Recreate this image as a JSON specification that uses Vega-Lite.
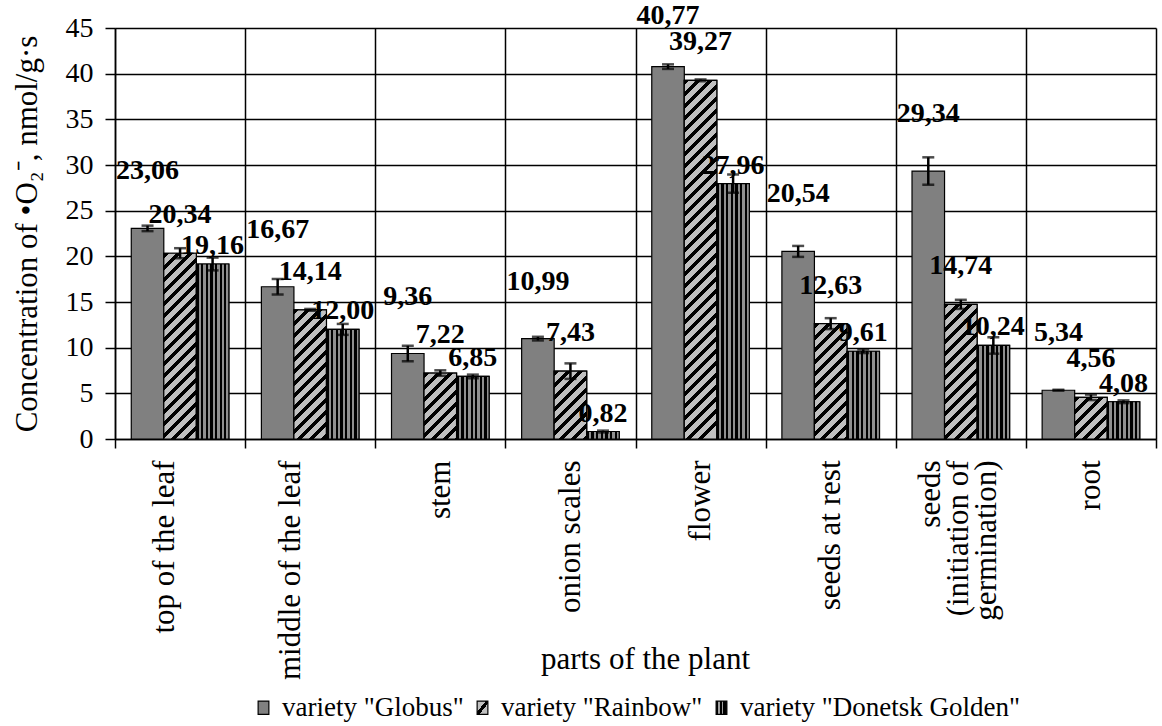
{
  "$schema": "https://vega.github.io/schema/vega-lite/v6.json",
  "width": 1041,
  "height": 411,
  "autosize": {"type": "none"},
  "padding": {"left": 115, "top": 28, "right": 6, "bottom": 287},
  "background": "white",
  "config": {
    "view": {"stroke": null},
    "font": "Liberation Serif",
    "locale": {"number": {"decimal": ",", "thousands": " ", "grouping": [3], "currency": ["", ""]}}
  },
  "params": [
    {"name": "hatchStops", "value": [
      {"offset":0,"color":"#000"},{"offset":0.013,"color":"#000"},{"offset":0.013,"color":"#c0c0c0"},{"offset":0.03125,"color":"#c0c0c0"},
      {"offset":0.03125,"color":"#000"},{"offset":0.04425,"color":"#000"},{"offset":0.04425,"color":"#c0c0c0"},{"offset":0.0625,"color":"#c0c0c0"},
      {"offset":0.0625,"color":"#000"},{"offset":0.0755,"color":"#000"},{"offset":0.0755,"color":"#c0c0c0"},{"offset":0.09375,"color":"#c0c0c0"},
      {"offset":0.09375,"color":"#000"},{"offset":0.10675,"color":"#000"},{"offset":0.10675,"color":"#c0c0c0"},{"offset":0.125,"color":"#c0c0c0"},
      {"offset":0.125,"color":"#000"},{"offset":0.138,"color":"#000"},{"offset":0.138,"color":"#c0c0c0"},{"offset":0.15625,"color":"#c0c0c0"},
      {"offset":0.15625,"color":"#000"},{"offset":0.16925,"color":"#000"},{"offset":0.16925,"color":"#c0c0c0"},{"offset":0.1875,"color":"#c0c0c0"},
      {"offset":0.1875,"color":"#000"},{"offset":0.2005,"color":"#000"},{"offset":0.2005,"color":"#c0c0c0"},{"offset":0.21875,"color":"#c0c0c0"},
      {"offset":0.21875,"color":"#000"},{"offset":0.23175,"color":"#000"},{"offset":0.23175,"color":"#c0c0c0"},{"offset":0.25,"color":"#c0c0c0"},
      {"offset":0.25,"color":"#000"},{"offset":0.263,"color":"#000"},{"offset":0.263,"color":"#c0c0c0"},{"offset":0.28125,"color":"#c0c0c0"},
      {"offset":0.28125,"color":"#000"},{"offset":0.29425,"color":"#000"},{"offset":0.29425,"color":"#c0c0c0"},{"offset":0.3125,"color":"#c0c0c0"},
      {"offset":0.3125,"color":"#000"},{"offset":0.3255,"color":"#000"},{"offset":0.3255,"color":"#c0c0c0"},{"offset":0.34375,"color":"#c0c0c0"},
      {"offset":0.34375,"color":"#000"},{"offset":0.35675,"color":"#000"},{"offset":0.35675,"color":"#c0c0c0"},{"offset":0.375,"color":"#c0c0c0"},
      {"offset":0.375,"color":"#000"},{"offset":0.388,"color":"#000"},{"offset":0.388,"color":"#c0c0c0"},{"offset":0.40625,"color":"#c0c0c0"},
      {"offset":0.40625,"color":"#000"},{"offset":0.41925,"color":"#000"},{"offset":0.41925,"color":"#c0c0c0"},{"offset":0.4375,"color":"#c0c0c0"},
      {"offset":0.4375,"color":"#000"},{"offset":0.4505,"color":"#000"},{"offset":0.4505,"color":"#c0c0c0"},{"offset":0.46875,"color":"#c0c0c0"},
      {"offset":0.46875,"color":"#000"},{"offset":0.48175,"color":"#000"},{"offset":0.48175,"color":"#c0c0c0"},{"offset":0.5,"color":"#c0c0c0"},
      {"offset":0.5,"color":"#000"},{"offset":0.513,"color":"#000"},{"offset":0.513,"color":"#c0c0c0"},{"offset":0.53125,"color":"#c0c0c0"},
      {"offset":0.53125,"color":"#000"},{"offset":0.54425,"color":"#000"},{"offset":0.54425,"color":"#c0c0c0"},{"offset":0.5625,"color":"#c0c0c0"},
      {"offset":0.5625,"color":"#000"},{"offset":0.5755,"color":"#000"},{"offset":0.5755,"color":"#c0c0c0"},{"offset":0.59375,"color":"#c0c0c0"},
      {"offset":0.59375,"color":"#000"},{"offset":0.60675,"color":"#000"},{"offset":0.60675,"color":"#c0c0c0"},{"offset":0.625,"color":"#c0c0c0"},
      {"offset":0.625,"color":"#000"},{"offset":0.638,"color":"#000"},{"offset":0.638,"color":"#c0c0c0"},{"offset":0.65625,"color":"#c0c0c0"},
      {"offset":0.65625,"color":"#000"},{"offset":0.66925,"color":"#000"},{"offset":0.66925,"color":"#c0c0c0"},{"offset":0.6875,"color":"#c0c0c0"},
      {"offset":0.6875,"color":"#000"},{"offset":0.7005,"color":"#000"},{"offset":0.7005,"color":"#c0c0c0"},{"offset":0.71875,"color":"#c0c0c0"},
      {"offset":0.71875,"color":"#000"},{"offset":0.73175,"color":"#000"},{"offset":0.73175,"color":"#c0c0c0"},{"offset":0.75,"color":"#c0c0c0"},
      {"offset":0.75,"color":"#000"},{"offset":0.763,"color":"#000"},{"offset":0.763,"color":"#c0c0c0"},{"offset":0.78125,"color":"#c0c0c0"},
      {"offset":0.78125,"color":"#000"},{"offset":0.79425,"color":"#000"},{"offset":0.79425,"color":"#c0c0c0"},{"offset":0.8125,"color":"#c0c0c0"},
      {"offset":0.8125,"color":"#000"},{"offset":0.8255,"color":"#000"},{"offset":0.8255,"color":"#c0c0c0"},{"offset":0.84375,"color":"#c0c0c0"},
      {"offset":0.84375,"color":"#000"},{"offset":0.85675,"color":"#000"},{"offset":0.85675,"color":"#c0c0c0"},{"offset":0.875,"color":"#c0c0c0"},
      {"offset":0.875,"color":"#000"},{"offset":0.888,"color":"#000"},{"offset":0.888,"color":"#c0c0c0"},{"offset":0.90625,"color":"#c0c0c0"},
      {"offset":0.90625,"color":"#000"},{"offset":0.91925,"color":"#000"},{"offset":0.91925,"color":"#c0c0c0"},{"offset":0.9375,"color":"#c0c0c0"},
      {"offset":0.9375,"color":"#000"},{"offset":0.9505,"color":"#000"},{"offset":0.9505,"color":"#c0c0c0"},{"offset":0.96875,"color":"#c0c0c0"},
      {"offset":0.96875,"color":"#000"},{"offset":0.98175,"color":"#000"},{"offset":0.98175,"color":"#c0c0c0"},{"offset":1,"color":"#c0c0c0"}
    ]},
    {"name": "donGrad", "value": {"gradient": "linear", "x1": 0, "y1": 0, "x2": 1, "y2": 0, "stops": [
      {"offset":0,"color":"#000"},{"offset":0.07,"color":"#000"},{"offset":0.07,"color":"#8f8f8f"},{"offset":0.142857,"color":"#8f8f8f"},
      {"offset":0.142857,"color":"#000"},{"offset":0.212857,"color":"#000"},{"offset":0.212857,"color":"#8f8f8f"},{"offset":0.285714,"color":"#8f8f8f"},
      {"offset":0.285714,"color":"#000"},{"offset":0.355714,"color":"#000"},{"offset":0.355714,"color":"#8f8f8f"},{"offset":0.428571,"color":"#8f8f8f"},
      {"offset":0.428571,"color":"#000"},{"offset":0.498571,"color":"#000"},{"offset":0.498571,"color":"#8f8f8f"},{"offset":0.571429,"color":"#8f8f8f"},
      {"offset":0.571429,"color":"#000"},{"offset":0.641429,"color":"#000"},{"offset":0.641429,"color":"#8f8f8f"},{"offset":0.714286,"color":"#8f8f8f"},
      {"offset":0.714286,"color":"#000"},{"offset":0.784286,"color":"#000"},{"offset":0.784286,"color":"#8f8f8f"},{"offset":0.857143,"color":"#8f8f8f"},
      {"offset":0.857143,"color":"#000"},{"offset":0.927143,"color":"#000"},{"offset":0.927143,"color":"#8f8f8f"},{"offset":1,"color":"#8f8f8f"}
    ]}},
    {"name": "legRain", "value": {"gradient": "linear", "x1": 0, "y1": 0, "x2": 1, "y2": 1, "stops": [
      {"offset":0,"color":"#c0c0c0"},{"offset":0.4,"color":"#c0c0c0"},{"offset":0.4,"color":"#000"},{"offset":0.6,"color":"#000"},{"offset":0.6,"color":"#c0c0c0"},{"offset":1,"color":"#c0c0c0"}
    ]}},
    {"name": "legDon", "value": {"gradient": "linear", "x1": 0, "y1": 0, "x2": 1, "y2": 0, "stops": [
      {"offset":0,"color":"#000"},{"offset":0.22,"color":"#000"},{"offset":0.22,"color":"#a0a0a0"},{"offset":0.34,"color":"#a0a0a0"},
      {"offset":0.34,"color":"#000"},{"offset":0.56,"color":"#000"},{"offset":0.56,"color":"#a0a0a0"},{"offset":0.68,"color":"#a0a0a0"},
      {"offset":0.68,"color":"#000"},{"offset":1,"color":"#000"}
    ]}}
  ],
  "data": {"values": [
    {"part": "top of the leaf", "variety": "Globus", "value": 23.06, "err": 0.3},
    {"part": "top of the leaf", "variety": "Rainbow", "value": 20.34, "err": 0.55},
    {"part": "top of the leaf", "variety": "Donetsk Golden", "value": 19.16, "err": 0.7},
    {"part": "middle of the leaf", "variety": "Globus", "value": 16.67, "err": 0.85},
    {"part": "middle of the leaf", "variety": "Rainbow", "value": 14.14, "err": 0.1},
    {"part": "middle of the leaf", "variety": "Donetsk Golden", "value": 12.00, "err": 0.6},
    {"part": "stem", "variety": "Globus", "value": 9.36, "err": 0.85},
    {"part": "stem", "variety": "Rainbow", "value": 7.22, "err": 0.3},
    {"part": "stem", "variety": "Donetsk Golden", "value": 6.85, "err": 0.2},
    {"part": "onion scales", "variety": "Globus", "value": 10.99, "err": 0.2},
    {"part": "onion scales", "variety": "Rainbow", "value": 7.43, "err": 0.85},
    {"part": "onion scales", "variety": "Donetsk Golden", "value": 0.82, "err": 0.1},
    {"part": "flower", "variety": "Globus", "value": 40.77, "err": 0.25},
    {"part": "flower", "variety": "Rainbow", "value": 39.27, "err": 0.1},
    {"part": "flower", "variety": "Donetsk Golden", "value": 27.96, "err": 1.0},
    {"part": "seeds at rest", "variety": "Globus", "value": 20.54, "err": 0.6},
    {"part": "seeds at rest", "variety": "Rainbow", "value": 12.63, "err": 0.6},
    {"part": "seeds at rest", "variety": "Donetsk Golden", "value": 9.61, "err": 0.2},
    {"part": "seeds (initiation of germination)", "variety": "Globus", "value": 29.34, "err": 1.5},
    {"part": "seeds (initiation of germination)", "variety": "Rainbow", "value": 14.74, "err": 0.5},
    {"part": "seeds (initiation of germination)", "variety": "Donetsk Golden", "value": 10.24, "err": 0.9},
    {"part": "root", "variety": "Globus", "value": 5.34, "err": 0.05},
    {"part": "root", "variety": "Rainbow", "value": 4.56, "err": 0.3},
    {"part": "root", "variety": "Donetsk Golden", "value": 4.08, "err": 0.15}
  ]},
  "encoding": {
    "x": {
      "field": "part", "type": "nominal",
      "scale": {"domain": ["top of the leaf", "middle of the leaf", "stem", "onion scales", "flower", "seeds at rest", "seeds (initiation of germination)", "root"], "paddingInner": 0, "paddingOuter": 0},
      "axis": {
        "title": "parts of the plant", "titleFont": "Liberation Serif", "titleFontSize": 31, "titleFontWeight": "normal", "titleColor": "black",
        "titleX": 530, "titleY": 229, "titleBaseline": "alphabetic",
        "labelAngle": -90, "labelFont": "Liberation Serif", "labelFontSize": 31, "labelColor": "black", "labelLimit": 400, "labelPadding": 12, "labelLineHeight": 28,
        "labelExpr": "datum.value == 'seeds (initiation of germination)' ? ['seeds', '(initiation of', 'germination)'] : datum.label",
        "labelOffset": {"condition": [
          {"test": "datum.value == 'seeds (initiation of germination)'", "value": -30},
          {"test": "datum.value == 'top of the leaf'", "value": -16},
          {"test": "datum.value == 'middle of the leaf'", "value": -20}
        ], "value": 0},
        "tickBand": "extent", "grid": true, "gridColor": "black", "gridWidth": 1.5,
        "tickColor": "black", "tickSize": 9, "tickWidth": 1.5, "domainColor": "black", "domainWidth": 1.5
      }
    },
    "xOffset": {"field": "variety", "type": "nominal", "scale": {"domain": ["Globus", "Rainbow", "Donetsk Golden"], "paddingInner": 0, "paddingOuter": 0.5}},
    "y": {
      "field": "value", "type": "quantitative",
      "scale": {"domain": [0, 45], "nice": false},
      "axis": {
        "title": "Concentration of •O₂⁻, nmol/g·s", "titleFont": "Liberation Serif", "titleFontSize": 31, "titleFontWeight": "normal", "titleColor": "black",
        "titleX": -88, "titleBaseline": "middle",
        "values": [0, 5, 10, 15, 20, 25, 30, 35, 40, 45],
        "labelFont": "Liberation Serif", "labelFontSize": 28, "labelColor": "black", "labelPadding": 12,
        "grid": true, "gridColor": "black", "gridWidth": 1.5,
        "tickColor": "black", "tickSize": 10, "tickWidth": 1.5, "domainColor": "black", "domainWidth": 1.5
      }
    }
  },
  "layer": [
    {
      "mark": {"type": "bar", "stroke": "black", "strokeWidth": 1.2},
      "encoding": {
        "fill": {
          "field": "variety", "type": "nominal",
          "scale": {"domain": ["Globus", "Rainbow", "Donetsk Golden"], "range": ["#808080", {"expr": "legRain"}, {"expr": "legDon"}]},
          "legend": {
            "title": null, "orient": "none", "legendX": 134, "legendY": 665, "direction": "horizontal",
            "labelExpr": "'variety \"' + datum.label + '\"'",
            "labelFont": "Liberation Serif", "labelFontSize": 27, "labelColor": "black", "labelLimit": 400, "labelOffset": 4,
            "columnPadding": 4, "symbolType": "M-0.4,-0.5H0.4V0.5H-0.4Z", "symbolSize": 720,
            "symbolStrokeColor": "black", "symbolStrokeWidth": 1.2
          }
        }
      }
    },
    {
      "transform": [{"filter": "datum.variety != 'Globus'"}],
      "mark": {"type": "bar", "stroke": "black", "strokeWidth": 1.2},
      "encoding": {
        "fill": {"value": {"expr": "datum.variety == 'Rainbow' ? {gradient: 'linear', x1: 0, y1: 0, x2: 12480 / (1056.25 + pow(datum.value * 9.1333, 2)), y2: datum.value * 9.1333 * 384 / (1056.25 + pow(datum.value * 9.1333, 2)), stops: hatchStops} : donGrad"}}
      }
    },
    {
      "mark": {"type": "errorbar", "ticks": {"size": 12, "thickness": 2.5, "color": "black"}, "thickness": 2.5, "color": "black"},
      "encoding": {
        "y": {"field": "value", "type": "quantitative"},
        "yError": {"field": "err"}
      }
    },
    {
      "transform": [{"filter": "datum.variety == 'Globus'"}],
      "mark": {"type": "text", "font": "Liberation Serif", "fontSize": 28, "fontWeight": "bold", "baseline": "middle", "dy": {"expr": "max(-57, -12 - scale('y', datum.value))"}, "color": "black"},
      "encoding": {"text": {"field": "value", "type": "quantitative", "format": ".2f"}}
    },
    {
      "transform": [{"filter": "datum.variety == 'Rainbow'"}],
      "mark": {"type": "text", "font": "Liberation Serif", "fontSize": 28, "fontWeight": "bold", "baseline": "middle", "dy": -38, "color": "black"},
      "encoding": {"text": {"field": "value", "type": "quantitative", "format": ".2f"}}
    },
    {
      "transform": [{"filter": "datum.variety == 'Donetsk Golden'"}],
      "mark": {"type": "text", "font": "Liberation Serif", "fontSize": 28, "fontWeight": "bold", "baseline": "middle", "dy": -18, "color": "black"},
      "encoding": {"text": {"field": "value", "type": "quantitative", "format": ".2f"}}
    }
  ]
}
